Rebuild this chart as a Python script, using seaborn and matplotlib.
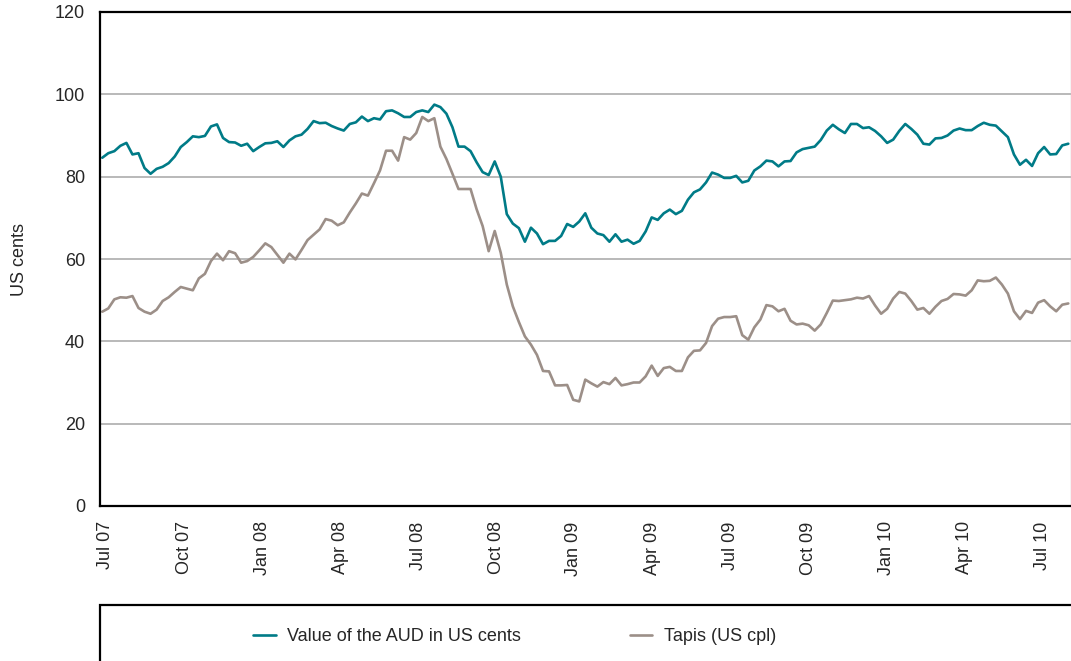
import numpy as np
import pandas as pd
import seaborn as sns
import matplotlib.pyplot as plt
import matplotlib.transforms as mtransforms
from matplotlib.patches import Rectangle

# weekly observations, Jul 2007 - Jul 2010
AUD_US_CENTS = [
    84.6, 85.7, 86.2, 87.5, 88.2, 85.4, 85.7, 82.1, 80.7, 81.9,
    82.4, 83.3, 84.9, 87.2, 88.4, 89.8, 89.6, 89.9, 92.2, 92.7,
    89.4, 88.4, 88.3, 87.5, 88.0, 86.2, 87.2, 88.1, 88.2, 88.6,
    87.2, 88.8, 89.8, 90.2, 91.6, 93.5, 93.0, 93.1, 92.3, 91.7,
    91.2, 92.8, 93.2, 94.6, 93.5, 94.2, 93.9, 95.9, 96.1, 95.4,
    94.5, 94.5, 95.7, 96.1,
    95.7, 97.5, 96.9, 95.3, 92.0, 87.3, 87.3, 86.2, 83.5, 81.1,
    80.4, 83.7, 80.0, 70.9, 68.6, 67.5, 64.2, 67.6, 66.2, 63.6,
    64.4, 64.4, 65.6, 68.5, 67.8, 69.1, 71.1, 67.6, 66.2, 65.8,
    64.2, 66.0, 64.2, 64.7, 63.7, 64.4, 66.7, 70.1, 69.5, 71.1,
    72.0, 70.9, 71.7, 74.4, 76.2, 76.9, 78.6, 81.0, 80.5, 79.7,
    79.7,
    80.2, 78.6, 79.0, 81.5, 82.5, 83.9, 83.7, 82.5, 83.7, 83.8,
    85.9, 86.7, 87.0, 87.3, 88.9, 91.2, 92.6, 91.5, 90.6, 92.8,
    92.8, 91.8, 92.0, 91.1, 89.8, 88.2, 89.0, 91.1, 92.8, 91.6,
    90.2, 88.0, 87.8, 89.3, 89.4, 90.0, 91.2, 91.7, 91.3, 91.3,
    92.3, 93.1, 92.6, 92.4, 91.0, 89.6, 85.4, 82.9, 84.1, 82.6,
    85.7, 87.2, 85.4, 85.5, 87.6, 88.0,
]

TAPIS_US_CPL = [
    47.2, 48.0, 50.2, 50.7, 50.6, 51.0, 48.1, 47.2, 46.7, 47.7,
    49.8, 50.7, 52.0, 53.2, 52.8, 52.4, 55.3, 56.4, 59.5, 61.3,
    59.7, 61.9, 61.4, 59.1, 59.5, 60.5, 62.1, 63.8, 62.9, 61.0,
    59.1, 61.3, 59.9, 62.2, 64.6, 65.9, 67.2, 69.7, 69.3, 68.2,
    68.9, 71.3, 73.5, 75.9, 75.4, 78.4, 81.5, 86.3, 86.3, 83.9,
    89.6, 89.0, 90.6, 94.5,
    93.5, 94.2, 87.3, 84.3, 80.7, 77.0, 77.0, 77.0, 72.1, 68.0,
    61.9, 66.8, 61.5, 53.8, 48.5, 44.7, 41.2, 39.2, 36.7, 32.8,
    32.7, 29.3, 29.3, 29.4, 25.8, 25.4, 30.7, 29.8, 29.0, 30.1,
    29.6, 31.1, 29.3, 29.6, 30.0, 30.0, 31.5, 34.1, 31.6, 33.5,
    33.8, 32.8, 32.8, 36.1, 37.7, 37.8, 39.6, 43.7, 45.5, 45.9,
    45.9,
    46.1, 41.5, 40.4, 43.4, 45.3, 48.8, 48.5, 47.3, 47.9, 45.0,
    44.1, 44.3, 43.9, 42.6, 44.1, 46.9, 49.9, 49.8, 50.0, 50.2,
    50.6, 50.4, 51.0, 48.7, 46.7, 47.9, 50.4, 52.0, 51.6, 49.8,
    47.7, 48.1, 46.7, 48.4, 49.8, 50.3, 51.5, 51.4, 51.1, 52.4,
    54.8, 54.6, 54.7, 55.5, 53.8, 51.6, 47.3, 45.4, 47.4, 46.9,
    49.4, 50.0, 48.5, 47.3, 48.9, 49.2,
]

SERIES_NAMES = ['Value of the AUD in US cents', 'Tapis (US cpl)']
TICK_LABELS = ['Jul 07', 'Oct 07', 'Jan 08', 'Apr 08', 'Jul 08', 'Oct 08', 'Jan 09',
               'Apr 09', 'Jul 09', 'Oct 09', 'Jan 10', 'Apr 10', 'Jul 10']
# quarter starts, in weeks from the first observation
TICK_WEEKS = [-0.31, 13.6, 26.5, 39.4, 52.3, 65.3, 78.1, 91.1, 104.0, 116.9, 129.9, 142.8, 155.8]

TEAL = '#007b87'
TAUPE = '#9c8f88'

sns.set_style('white')
plt.rcParams['font.family'] = ['Liberation Sans', 'DejaVu Sans']

weeks = np.arange(len(AUD_US_CENTS))
df = pd.concat([
    pd.DataFrame({'week': weeks, 'value': AUD_US_CENTS, 'series': SERIES_NAMES[0]}),
    pd.DataFrame({'week': weeks, 'value': TAPIS_US_CPL, 'series': SERIES_NAMES[1]}),
])

W, H = 1071, 661
fig = plt.figure(figsize=(W / 100, H / 100), dpi=100)
ax = fig.add_axes([100.4 / W, 155 / H, 970.3 / W, 494 / H])

sns.lineplot(data=df, x='week', y='value', hue='series', palette=[TEAL, TAUPE],
             linewidth=1.9, ax=ax)

ax.set_xlim(-0.31, 160.4)
ax.set_ylim(0, 120)
ax.set_yticks(range(0, 121, 20))
ax.set_xticks(TICK_WEEKS)
ax.set_xticklabels(TICK_LABELS, rotation=90)
ax.set_xlabel('')
ax.set_ylabel('US cents', fontsize=13)
ax.yaxis.set_label_coords(-0.0742, 0.5)

ax.yaxis.grid(True, color='#a6a6a6', lw=1.1)
ax.set_axisbelow(True)
ax.tick_params(axis='y', length=0, pad=11, labelsize=13)
ax.tick_params(axis='x', direction='in', length=5.5, width=0.8, color='#a0a0a0',
               pad=11, labelsize=13)

# first label sits a little right of the axis corner
first = ax.get_xticklabels()[0]
first.set_transform(first.get_transform() + mtransforms.ScaledTranslation(5 / 100, 0, fig.dpi_scale_trans))

for side in ['left', 'top', 'bottom']:
    ax.spines[side].set_color('black')
    ax.spines[side].set_linewidth(1.6)
ax.spines['right'].set_color('#c8c8c8')
ax.spines['right'].set_linewidth(1.0)

# legend in a box under the chart
handles, labels = ax.get_legend_handles_labels()
ax.get_legend().remove()
fig.patches.append(Rectangle((100 / W, -0.5), 2, 0.5 + (H - 605) / H, transform=fig.transFigure,
                             fill=False, ec='black', lw=1.6))
fig.legend(handles, labels, loc='center left', bbox_to_anchor=(253 / W, (H - 636.7) / H),
           ncol=2, frameon=False, handlelength=1.25, handletextpad=0.65,
           columnspacing=6.0, borderpad=0, borderaxespad=0, fontsize=13)

fig.savefig('out.png', dpi=100)
